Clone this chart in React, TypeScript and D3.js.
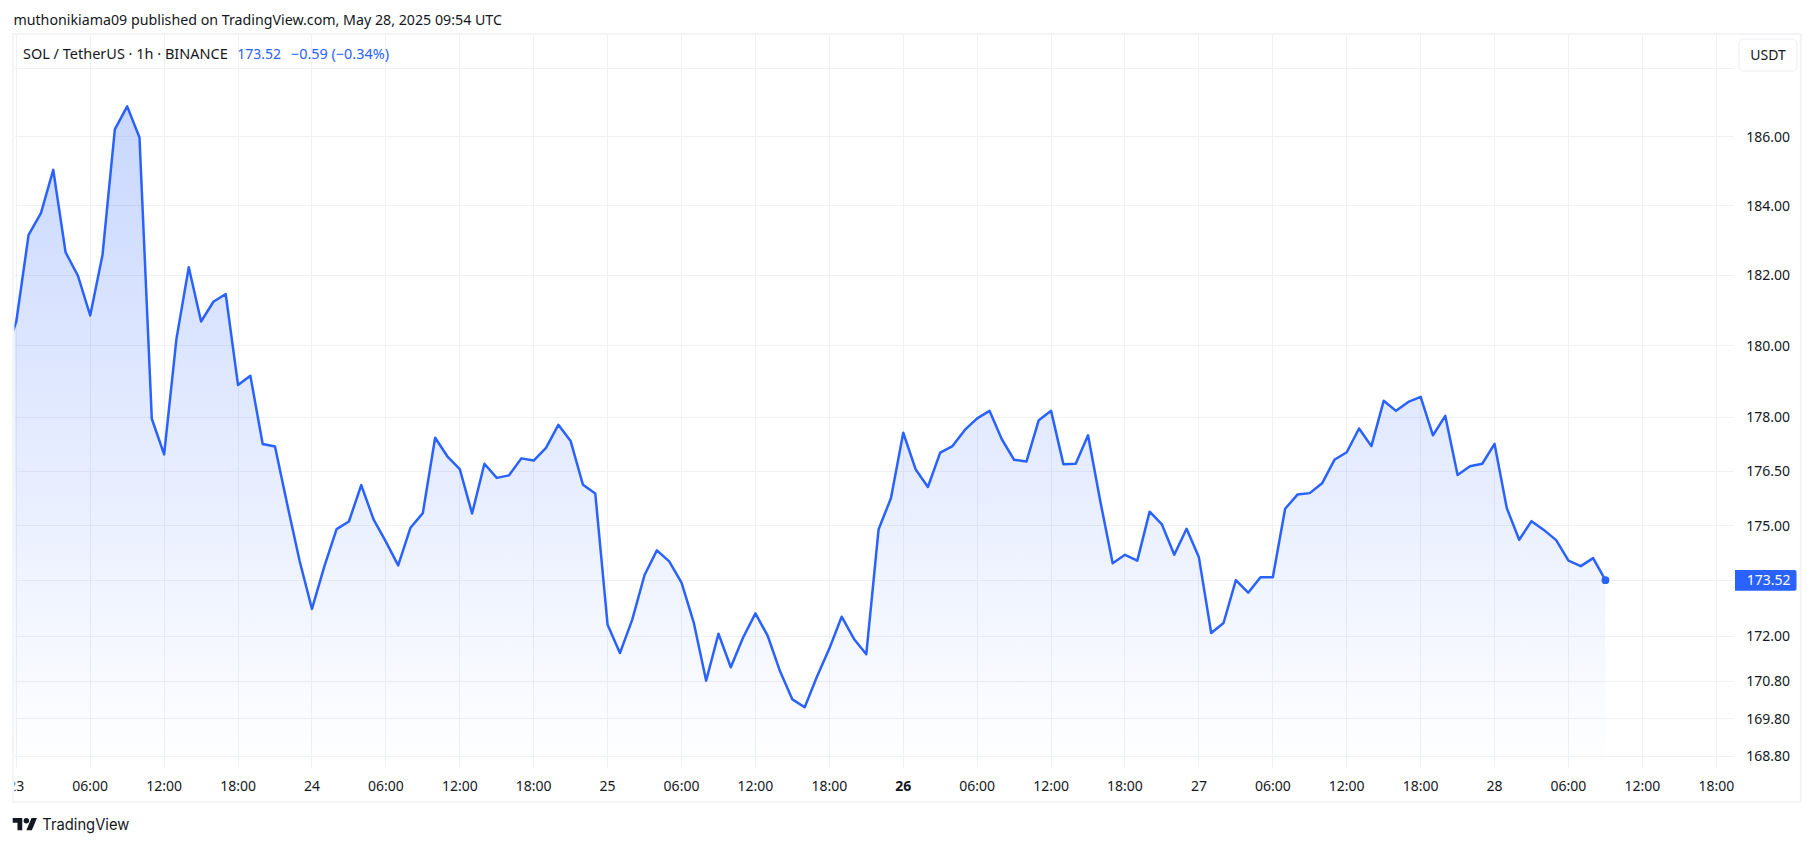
import React from "react";
import * as d3 from "d3";

const W = 1814;
const H = 847;

// Hourly closes; the first value is the hour before the left edge of the pane.
const prices = [
  179.66, 180.69, 183.16, 183.78, 185.03, 182.66, 181.99, 180.86, 182.59, 186.21, 186.88, 185.97,
  177.96, 176.97, 180.2, 182.23, 180.69, 181.25, 181.47, 178.9, 179.16, 177.26, 177.19, 175.58,
  174.04, 172.74, 173.89, 174.91, 175.12, 176.12, 175.18, 174.57, 173.92, 174.95, 175.35, 177.43,
  176.91, 176.56, 175.34, 176.71, 176.32, 176.39, 176.86, 176.8, 177.15, 177.79, 177.34, 176.13,
  175.89, 172.31, 171.55, 172.45, 173.66, 174.33, 174.03, 173.45, 172.36, 170.81, 172.07, 171.17,
  171.97, 172.62, 172.01, 171.06, 170.31, 170.1, 170.92, 171.67, 172.53, 171.93, 171.52, 174.91,
  175.76, 177.57, 176.56, 176.07, 177.02, 177.2, 177.65, 177.97, 178.18, 177.39, 176.82, 176.77,
  177.92, 178.18, 176.7, 176.71, 177.5, 175.67, 173.98, 174.21, 174.05, 175.39, 175.04, 174.21,
  174.92, 174.14, 172.09, 172.36, 173.52, 173.18, 173.6, 173.6, 175.47, 175.86, 175.9, 176.17,
  176.82, 177.03, 177.69, 177.2, 178.46, 178.18, 178.43, 178.57, 177.5, 178.04, 176.4, 176.64,
  176.71, 177.26, 175.48, 174.62, 175.13, 174.89, 174.61, 174.05, 173.9, 174.12, 173.52,
];
const firstHour = -1;

const priceLabels = ["186.00", "184.00", "182.00", "180.00", "178.00", "176.50", "175.00", "172.00", "170.80", "169.80", "168.80"];
const priceGridOnly = [188, 173.5];

const timeHours = [0, 6, 12, 18, 24, 30, 36, 42, 48, 54, 60, 66, 72, 78, 84, 90, 96, 102, 108, 114, 120, 126, 132, 138];
const timeLabels = ["23", "06:00", "12:00", "18:00", "24", "06:00", "12:00", "18:00", "25", "06:00", "12:00", "18:00", "26", "06:00", "12:00", "18:00", "27", "06:00", "12:00", "18:00", "28", "06:00", "12:00", "18:00"];
const boldLabels = ["26"];

const titleText = "muthonikiama09 published on TradingView.com, May 28, 2025 09:54 UTC";
const legendText = "SOL / TetherUS · 1h · BINANCE";
const legendValue = "173.52";
const legendChange = "−0.59 (−0.34%)";
const lastLabel = "173.52";
const unitLabel = "USDT";

const BLUE = "#2962ff";
const INK = "#131722";
const GRID = "#f0f1f5";
const FRAME = "#f3f4f6";
const FONT = "'Noto Sans', sans-serif";

const paneLeft = 14.5;
const paneRight = 1734;
const paneTop = 35;
const paneBottom = 768;

export default function App() {
  const x = d3.scaleLinear().domain([0, 138]).range([16.3, 1716.3]);
  const y = d3.scaleLog().domain([186, 168.8]).range([136.5, 756.3]);
  const snap = (v: number) => Math.round(v - 0.5) + 0.5;

  const pts = prices.map((p, i) => ({ h: i + firstHour, p }));
  const line = d3.line<{ h: number; p: number }>().x((d) => x(d.h)).y((d) => y(d.p));
  const area = d3
    .area<{ h: number; p: number }>()
    .x((d) => x(d.h))
    .y0(paneBottom)
    .y1((d) => y(d.p));
  const last = pts[pts.length - 1];
  const gridValues = [...priceLabels.map(Number), ...priceGridOnly];

  return (
    <svg width={W} height={H} style={{ position: "absolute", left: 0, top: 0, display: "block", background: "#fff" }} fontFamily={FONT}>
      <defs>
        <linearGradient id="fill" gradientUnits="userSpaceOnUse" x1="0" x2="0" y1={paneTop} y2={paneBottom}>
          <stop offset="0" stopColor={BLUE} stopOpacity={0.28} />
          <stop offset="1" stopColor={BLUE} stopOpacity={0} />
        </linearGradient>
        <clipPath id="pane">
          <rect x={paneLeft} y={paneTop} width={paneRight - paneLeft} height={paneBottom - paneTop} />
        </clipPath>
        <clipPath id="axis">
          <rect x={paneLeft} y={paneBottom} width={paneRight - paneLeft + 10} height={34} />
        </clipPath>
      </defs>

      <text x={13.4} y={24.5} fontSize={14} fill={INK} textLength={488.6} lengthAdjust="spacingAndGlyphs">{titleText}</text>

      <rect x={13.2} y={34} width={1787.6} height={768} fill="none" stroke={FRAME} strokeWidth={2} />

      <g stroke={GRID} strokeWidth={1} shapeRendering="crispEdges">
        {timeHours.map((h) => (
          <line key={h} x1={snap(x(h))} x2={snap(x(h))} y1={paneTop} y2={paneBottom} />
        ))}
        {gridValues.map((v) => (
          <line key={v} x1={paneLeft} x2={paneRight} y1={snap(y(v))} y2={snap(y(v))} />
        ))}
      </g>

      <g clipPath="url(#pane)">
        <path d={area(pts) ?? ""} fill="url(#fill)" />
        <path d={line(pts) ?? ""} fill="none" stroke={BLUE} strokeWidth={2.5} strokeLinejoin="round" />
      </g>
      <circle cx={x(last.h)} cy={y(last.p)} r={3.9} fill={BLUE} />

      <g clipPath="url(#axis)" fontSize={14} fill={INK} textAnchor="middle">
        {timeHours.map((h, i) => (
          <text key={h} x={x(h)} y={790.5} fontWeight={boldLabels.includes(timeLabels[i]) ? 700 : 400}>{timeLabels[i]}</text>
        ))}
      </g>

      <g fontSize={14} fill={INK} textAnchor="middle">
        {priceLabels.map((l) => (
          <text key={l} x={1768.2} y={y(Number(l)) + 5}>{l}</text>
        ))}
      </g>

      <path d="M1735 570H1794.5a2 2 0 0 1 2 2V588.7a2 2 0 0 1 -2 2H1735Z" fill={BLUE} />
      <text x={1768.6} y={y(last.p) + 5.3} fontSize={14} fill="#fff" textAnchor="middle">{lastLabel}</text>

      <rect x={1739} y={39} width={58} height={32} rx={5} fill="#fff" stroke={FRAME} strokeWidth={1.5} />
      <text x={1768} y={59.5} fontSize={14} fill={INK} textAnchor="middle">{unitLabel}</text>

      <text x={23} y={59} fontSize={14} fill={INK} textLength={204.7} lengthAdjust="spacingAndGlyphs">{legendText}</text>
      <text x={237.3} y={59} fontSize={14} fill={BLUE}>{legendValue}</text>
      <text x={291} y={59} fontSize={14} fill={BLUE} textLength={98} lengthAdjust="spacingAndGlyphs">{legendChange}</text>

      <g transform="translate(12.7 815.3) scale(0.683)" fill={INK}>
        <path d="M14 22H7V11H0V4h14v18zM28 22h-8l7.5-18h8L28 22z" />
        <circle cx="20" cy="8" r="4" />
      </g>
      <text x={42.3} y={830} fontSize={15.5} fill={INK} fontFamily="'Inter', sans-serif" textLength={87} lengthAdjust="spacingAndGlyphs">TradingView</text>
    </svg>
  );
}
